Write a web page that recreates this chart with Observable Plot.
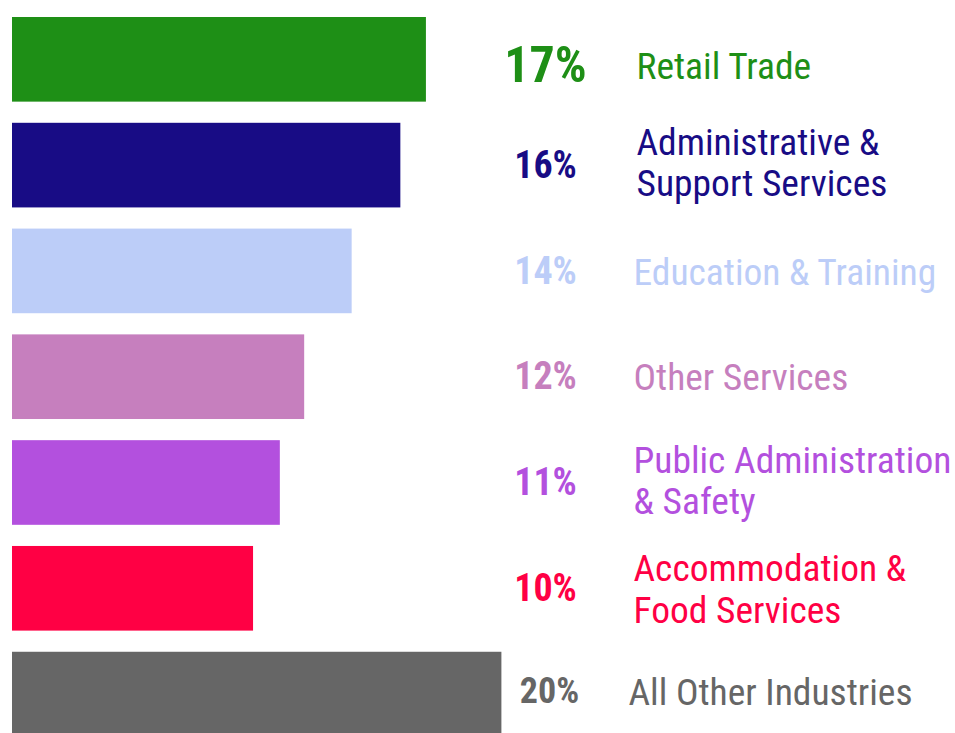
<!DOCTYPE html>
<html><head><meta charset="utf-8">
<script src="https://cdn.jsdelivr.net/npm/d3@7"></script>
<script src="https://cdn.jsdelivr.net/npm/@observablehq/plot@0.6"></script>
<style>body{margin:0;background:#fff} svg{display:block}</style>
</head><body><div id="chart"></div>
<script>
const industries = ["Retail Trade", "Administrative &\nSupport Services", "Education & Training", "Other Services", "Public Administration\n& Safety", "Accommodation &\nFood Services", "All Other Industries"];
const shares = [17, 15.95, 13.95, 12, 11, 9.9, 20.1];
const shareLabels = ["17%", "16%", "14%", "12%", "11%", "10%", "20%"];
const colors = ["#1e8f16", "#180c85", "#bccdf8", "#c67fbe", "#b350de", "#ff0044", "#666666"];

const data = industries.map((name, i) => ({name, share: shares[i], label: shareLabels[i], color: colors[i], rank: i}));
const font = "'Roboto Condensed', Roboto, sans-serif";
const last = industries.length - 1;

const pct = (filter, opts) => Plot.text(data, {filter, y: "name", text: "label", fill: "name", frameAnchor: "left", textAnchor: "middle", fontWeight: "bold", fontFamily: font, ...opts});
const lab = (filter, opts) => Plot.text(data, {filter, y: "name", text: "name", fill: "name", frameAnchor: "left", textAnchor: "start", lineAnchor: "middle", lineHeight: 1.1, fontSize: 37.5, fontFamily: font, ...opts});

const chart = Plot.plot({
  width: 955,
  height: 733,
  marginLeft: 12,
  marginRight: 0,
  marginTop: 0,
  marginBottom: 0,
  style: {fontFamily: font, fontStretch: "condensed", background: "#fff"},
  x: {domain: [0, 38.73], axis: null},
  y: {domain: industries, range: [17, 736.4], paddingInner: 0.2, paddingOuter: 0, round: false, axis: null},
  color: {domain: industries, range: colors},
  marks: [
    Plot.barX(data, {y: "name", x: "share", fill: "name"}),
    pct(d => d.rank === 0, {dx: 533, dy: 6, fontSize: 50}),
    pct(d => d.rank > 0 && d.rank < last, {dx: 533, fontSize: 38}),
    pct(d => d.rank === last, {dx: 537, dy: -3, fontSize: 36}),
    lab(d => d.rank === 0, {dx: 624, dy: 6}),
    lab(d => d.rank === 1, {dx: 624, dy: -3}),
    lab(d => d.rank === 4, {dx: 621, dy: -3}),
    lab(d => d.rank === 2 || d.rank === 3 || d.rank === 5, {dx: 621}),
    lab(d => d.rank === last, {dx: 616, dy: -3})
  ]
});
document.getElementById("chart").appendChild(chart);
</script>
</body></html>
